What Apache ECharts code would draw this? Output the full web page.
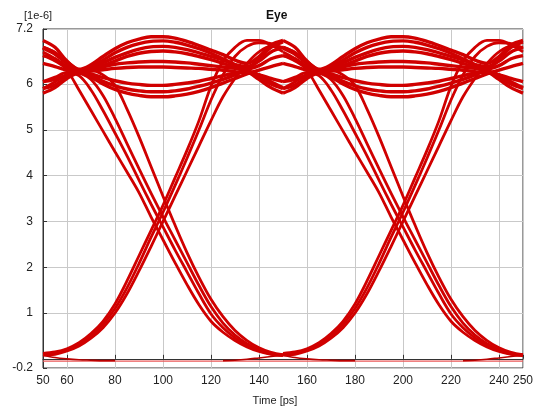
<!DOCTYPE html>
<html>
<head>
<meta charset="utf-8">
<script src="https://cdn.jsdelivr.net/npm/echarts@6/dist/echarts.min.js"></script>
<style>
  html, body { margin: 0; padding: 0; background: #ffffff; }
  #chart { width: 538px; height: 411px; }
</style>
</head>
<body>
<div id="chart"></div>
<script>
// Eye diagram: every trace is sampled over one 100 ps unit interval and folded
// onto both intervals of the 50..250 ps window.
const uiStarts = [50, 150];
const tRel = [0, 5, 10, 15, 20, 25, 30, 35, 40, 45, 50, 55, 60, 65, 70, 75, 80, 85, 90, 95, 100];

const xTicks = [50, 60, 80, 100, 120, 140, 160, 180, 200, 220, 240, 250];
const yTicks = [-0.2, 1, 2, 3, 4, 5, 6, 7.2];

// High level, upper arcs
const hiTop1 = [6.95, 6.8, 6.5, 6.32, 6.42, 6.6, 6.77, 6.9, 6.98, 7.03, 7.03, 7.0, 6.93, 6.84, 6.74, 6.64, 6.52, 6.45, 6.6, 6.85, 6.95];
const hiTop2 = [6.8, 6.68, 6.45, 6.28, 6.36, 6.52, 6.68, 6.8, 6.88, 6.93, 6.94, 6.91, 6.85, 6.77, 6.67, 6.55, 6.42, 6.28, 6.1, 5.92, 5.8];
const hiTop3 = [6.78, 6.65, 6.45, 6.3, 6.34, 6.46, 6.58, 6.68, 6.76, 6.81, 6.82, 6.8, 6.75, 6.68, 6.6, 6.52, 6.42, 6.38, 6.5, 6.7, 6.8];
const hiTop4 = [6.45, 6.38, 6.3, 6.26, 6.3, 6.4, 6.5, 6.6, 6.67, 6.71, 6.72, 6.7, 6.66, 6.6, 6.53, 6.45, 6.36, 6.27, 6.15, 6.0, 5.9];
// High level, middle strands
const hiMid1 = [6.62, 6.55, 6.38, 6.27, 6.3, 6.37, 6.43, 6.46, 6.48, 6.49, 6.49, 6.48, 6.46, 6.43, 6.4, 6.37, 6.34, 6.33, 6.4, 6.55, 6.62];
const hiMid2 = [6.05, 6.1, 6.2, 6.25, 6.28, 6.31, 6.34, 6.36, 6.37, 6.37, 6.37, 6.36, 6.35, 6.34, 6.32, 6.3, 6.27, 6.24, 6.2, 6.12, 6.05];
// High level, lower arcs
const hiLow1 = [5.8, 5.92, 6.12, 6.24, 6.15, 6.0, 5.88, 5.8, 5.75, 5.72, 5.72, 5.74, 5.78, 5.84, 5.92, 6.02, 6.12, 6.22, 6.3, 6.38, 6.45];
const hiLow2 = [5.9, 5.98, 6.15, 6.25, 6.18, 6.06, 5.96, 5.89, 5.85, 5.83, 5.83, 5.85, 5.89, 5.95, 6.02, 6.1, 6.2, 6.32, 6.55, 6.8, 6.92];
const hiLow3 = [6.8, 6.68, 6.48, 6.3, 6.22, 6.14, 6.07, 6.02, 5.99, 5.97, 5.97, 5.99, 6.02, 6.06, 6.12, 6.18, 6.24, 6.28, 6.2, 6.05, 5.92];

// Falling edges (high -> low)
const fall1 = [6.7, 6.55, 6.3, 5.87, 5.42, 4.97, 4.52, 4.08, 3.63, 3.1, 2.6, 2.1, 1.62, 1.18, 0.82, 0.58, 0.4, 0.26, 0.16, 0.1, 0.07];
const fall2 = [6.05, 6.15, 6.25, 6.18, 5.87, 5.42, 4.93, 4.43, 3.9, 3.38, 2.88, 2.38, 1.9, 1.42, 0.98, 0.68, 0.46, 0.3, 0.18, 0.11, 0.08];
const fall3 = [6.62, 6.5, 6.35, 6.25, 6.1, 5.75, 5.25, 4.7, 4.15, 3.62, 3.1, 2.6, 2.1, 1.6, 1.14, 0.78, 0.52, 0.33, 0.2, 0.12, 0.08];
const fall4 = [5.9, 6.05, 6.2, 6.28, 6.3, 6.2, 5.97, 5.45, 4.85, 4.2, 3.55, 2.92, 2.32, 1.78, 1.3, 0.92, 0.62, 0.4, 0.24, 0.14, 0.09];

// Rising edges (low -> high)
const rise1 = [0.12, 0.15, 0.22, 0.35, 0.55, 0.82, 1.2, 1.7, 2.25, 2.8, 3.35, 3.95, 4.55, 5.2, 5.95, 6.5, 6.8, 6.95, 6.95, 6.85, 6.7];
const rise2 = [0.1, 0.13, 0.2, 0.32, 0.5, 0.75, 1.1, 1.55, 2.08, 2.65, 3.2, 3.78, 4.38, 5.0, 5.65, 6.2, 6.6, 6.82, 6.9, 6.88, 6.78];
const rise3 = [0.08, 0.1, 0.17, 0.28, 0.45, 0.68, 1.0, 1.42, 1.92, 2.45, 3.0, 3.55, 4.1, 4.65, 5.2, 5.72, 6.12, 6.45, 6.7, 6.82, 6.8];

// Low level
const lowBase = [-0.05, -0.05, -0.05, -0.05, -0.05, -0.05, -0.05, -0.05, -0.05, -0.05, -0.05, -0.05, -0.05, -0.05, -0.05, -0.05, -0.05, -0.05, -0.05, -0.05, -0.05];
const lowEnds = [0.08, 0.03, 0.0, -0.02, -0.03, -0.04, -0.04, null, null, null, null, null, null, null, null, -0.04, -0.03, -0.01, 0.02, 0.05, 0.08];

const RED = '#d00000';

const traceGroups = [
  { values: [lowBase], color: '#ea5858', width: 1.2 },
  { values: [lowEnds], color: '#b80000', width: 1.6 },
  { values: [hiTop1, hiTop2, hiTop3, hiTop4, hiMid1, hiMid2, hiLow1, hiLow2, hiLow3], color: RED, width: 3.4 },
  { values: [fall1, fall2, fall3, fall4], color: RED, width: 2.8 },
  { values: [rise1, rise2, rise3], color: RED, width: 2.8 }
];

const series = [];
traceGroups.forEach(function (g) {
  g.values.forEach(function (vals) {
    uiStarts.forEach(function (s) {
      series.push({
        type: 'line',
        data: tRel.map(function (r, i) { return [s + r, vals[i]]; }),
        showSymbol: false,
        symbol: 'none',
        smooth: 0.35,
        connectNulls: false,
        silent: true,
        lineStyle: { color: g.color, width: g.width },
        z: 3
      });
    });
  });
});

const labelFont = { color: '#222', fontSize: 12, fontFamily: 'Liberation Sans, Arial, sans-serif' };

const chart = echarts.init(document.getElementById('chart'), null, { renderer: 'canvas' });
chart.setOption({
  animation: false,
  backgroundColor: '#ffffff',
  title: [
    { text: 'Eye', left: 261, top: 5,
      textStyle: { fontSize: 12, fontWeight: 'bold', color: '#111', fontFamily: 'Liberation Sans, Arial, sans-serif' } },
    { text: '[1e-6]', left: 19, top: 5,
      textStyle: { fontSize: 11, fontWeight: 'normal', color: '#222', fontFamily: 'Liberation Sans, Arial, sans-serif' } }
  ],
  grid: {
    left: 43, right: 15, top: 29, bottom: 37,
    show: true, borderColor: '#333', borderWidth: 1, backgroundColor: '#fff'
  },
  xAxis: {
    type: 'value', min: 50, max: 250,
    name: 'Time [ps]', nameLocation: 'middle', nameGap: 27,
    nameTextStyle: { color: '#222', fontSize: 11, fontFamily: 'Liberation Sans, Arial, sans-serif', padding: [0, 16, 0, 0] },
    axisLine: { show: true, lineStyle: { color: '#333', width: 1 } },
    axisTick: { show: true, inside: true, length: 4, customValues: xTicks, lineStyle: { color: '#333' } },
    axisLabel: Object.assign({ customValues: xTicks, margin: 7 }, labelFont),
    splitLine: { show: true, lineStyle: { color: '#c9c9c9', width: 1 } }
  },
  yAxis: {
    type: 'value', min: -0.2, max: 7.2,
    axisLine: { show: true, lineStyle: { color: '#333', width: 1 } },
    axisTick: { show: true, inside: true, length: 4, customValues: yTicks, lineStyle: { color: '#333' } },
    axisLabel: Object.assign({ customValues: yTicks, margin: 10 }, labelFont),
    splitLine: { show: true, lineStyle: { color: '#c9c9c9', width: 1 } }
  },
  series: series
});
</script>
</body>
</html>
